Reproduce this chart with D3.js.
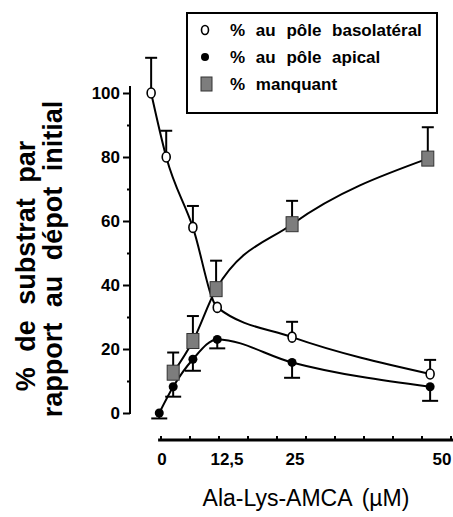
<!DOCTYPE html>
<html>

<head>
    <meta charset="utf-8">
    <style>
        body {
            margin: 0;
            background: white;
        }

        svg {
            font-family: 'Liberation Sans', Arial, sans-serif;
        }
    </style>
</head>

<body>
    <svg width="453" height="517"></svg>

    <script src="https://d3js.org/d3.v7.min.js"></script>
    <script>
        // values (x in µM, y in %)
        let basoX = [-1.7, 0.9, 5.5, 9.7, 22.6, 46.4];
        let basoY = [100, 80, 58, 33, 23.7, 12.2];
        let basoErr = [111, 88.2, 64.7, null, 28.5, 16.6]; // upper bars only

        let apicX = [-0.3, 2.1, 5.5, 9.7, 22.6, 46.4];
        let apicY = [0, 8.2, 16.8, 23, 15.8, 8.2];
        let apicErr = [-1.7, 5.1, 13.2, 20.2, 11, 3.8]; // lower bars only

        let missX = [2.1, 5.5, 9.5, 22.6, 46];
        let missY = [12.6, 22.5, 38.7, 59, 79.5];
        let missErr = [18.9, 30.3, 47.6, 66.3, 89.3]; // upper bars only

        let yTicks = [0, 20, 40, 60, 80, 100];
        let yMinor = [10, 30, 50, 70, 90];
        let xTickVals = [0, 12.5, 25, 50];
        let xTickLabels = ["0", "12,5", "25", "50"];
        let legendLabels = ["% au pôle basolatéral", "% au pôle apical", "% manquant"];

        let svg = d3.select("svg");

        let x = d3.scaleLinear().domain([0, 50]).range([161, 451]);
        // labels in the figure are not placed on the tick grid
        let xLab = d3.scaleLinear().domain([0, 12.5, 25, 50]).range([162, 227, 295, 442]);
        let y = d3.scaleLinear().domain([0, 100]).range([413, 93]);

        // ---- y axis
        let yAxis = svg.append("g").attr("transform", "translate(130,0)");
        yAxis.call(d3.axisLeft(y).tickValues(yTicks).tickSize(7).tickFormat(d3.format("d")))
        yAxis.select(".domain").remove();
        yAxis.selectAll("line").style("stroke", "#000").style("stroke-width", 2);
        yAxis.selectAll("text")
            .attr("x", -10)
            .style("font-size", "17px")
            .style("font-weight", "bold")
            .style("fill", "#000");

        let yMin = svg.append("g").attr("transform", "translate(130,0)");
        yMin.call(d3.axisLeft(y).tickValues(yMinor).tickSize(3).tickFormat(""));
        yMin.select(".domain").remove();
        yMin.selectAll("line").style("stroke", "#000").style("stroke-width", 2);

        svg.append("line")
            .attr("x1", 130).attr("x2", 130)
            .attr("y1", y(102.2)).attr("y2", y(0) + 1)
            .style("stroke", "#000").style("stroke-width", 2);

        // ---- x axis (detached, below)
        let xAxisY = 440;
        svg.append("line")
            .attr("x1", x(-0.5)).attr("x2", 453)
            .attr("y1", xAxisY).attr("y2", xAxisY)
            .style("stroke", "#000").style("stroke-width", 3);

        svg.selectAll(".xtick")
            .data(d3.range(0, 51, 5))
            .join("line")
            .attr("class", "xtick")
            .attr("x1", d => x(d)).attr("x2", d => x(d))
            .attr("y1", xAxisY).attr("y2", xAxisY - 4)
            .style("stroke", "#000").style("stroke-width", 2);

        svg.selectAll(".xlab")
            .data(xTickVals)
            .join("text")
            .attr("class", "xlab")
            .attr("x", d => xLab(d))
            .attr("y", 465)
            .attr("text-anchor", "middle")
            .style("font-size", "17px")
            .style("font-weight", "bold")
            .text((d, i) => xTickLabels[i]);

        // ---- axis titles (rotated, two lines)
        let yTitle = svg.append("text")
            .attr("transform", "rotate(-90)")
            .attr("text-anchor", "middle")
            .style("font-size", "27px")
            .style("font-weight", "bold")
            .style("word-spacing", "8px");
        yTitle.append("tspan").attr("x", -266).attr("y", 35).text("% de substrat par");
        yTitle.append("tspan").attr("x", -259).attr("y", 62).text("rapport au dépot initial");

        svg.append("text")
            .attr("x", 306)
            .attr("y", 506)
            .attr("text-anchor", "middle")
            .style("font-size", "23px")
            .style("word-spacing", "4px")
            .text("Ala-Lys-AMCA (µM)");

        // ---- curves
        let line = d3.line()
            .x(d => x(d[0]))
            .y(d => y(d[1]))
            .curve(d3.curveMonotoneX);

        [
            [basoX, basoY],
            [apicX, apicY],
            [missX, missY]
        ].forEach(s => {
            svg.append("path")
                .datum(s[0].map((v, i) => [v, s[1][i]]))
                .attr("d", line)
                .style("fill", "none")
                .style("stroke", "#000")
                .style("stroke-width", 2);
        });

        // ---- error bars
        function errBars(xs, ys, es, cap) {
            let g = svg.append("g");
            xs.forEach((v, i) => {
                if (es[i] == null) return;
                g.append("line")
                    .attr("x1", x(v)).attr("x2", x(v))
                    .attr("y1", y(ys[i])).attr("y2", y(es[i]))
                    .style("stroke", "#000").style("stroke-width", 2);
                g.append("line")
                    .attr("x1", x(v) - cap / 2).attr("x2", x(v) + cap / 2)
                    .attr("y1", y(es[i])).attr("y2", y(es[i]))
                    .style("stroke", "#000").style("stroke-width", 2);
            });
        }
        errBars(basoX, basoY, basoErr, 12);
        errBars(apicX, apicY, apicErr, 16);
        errBars(missX, missY, missErr, 12);

        // ---- markers
        svg.selectAll(".miss")
            .data(missX)
            .join("rect")
            .attr("class", "miss")
            .attr("x", d => x(d) - 6)
            .attr("y", (d, i) => y(missY[i]) - 7.5)
            .attr("width", 12)
            .attr("height", 15)
            .style("fill", "#7d7d7d")
            .style("stroke", "#333")
            .style("stroke-width", 1);

        svg.selectAll(".apic")
            .data(apicX)
            .join("circle")
            .attr("class", "apic")
            .attr("cx", d => x(d))
            .attr("cy", (d, i) => y(apicY[i]))
            .attr("r", 4.5)
            .style("fill", "#000");

        svg.selectAll(".baso")
            .data(basoX)
            .join("ellipse")
            .attr("class", "baso")
            .attr("cx", d => x(d))
            .attr("cy", (d, i) => y(basoY[i]))
            .attr("rx", 4)
            .attr("ry", 5)
            .style("fill", "#fff")
            .style("stroke", "#000")
            .style("stroke-width", 1.6);

        // ---- legend
        let leg = svg.append("g");
        leg.append("rect")
            .attr("x", 187).attr("y", 13)
            .attr("width", 250).attr("height", 100)
            .style("fill", "#fff")
            .style("stroke", "#000")
            .style("stroke-width", 2);

        let rowY = [30, 57, 84];
        leg.append("ellipse")
            .attr("cx", 205).attr("cy", rowY[0])
            .attr("rx", 3.5).attr("ry", 4.5)
            .style("fill", "#fff").style("stroke", "#000").style("stroke-width", 1.6);
        leg.append("circle")
            .attr("cx", 205).attr("cy", rowY[1])
            .attr("r", 4)
            .style("fill", "#000");
        leg.append("rect")
            .attr("x", 201).attr("y", rowY[2] - 7)
            .attr("width", 11).attr("height", 14)
            .style("fill", "#7d7d7d").style("stroke", "#333").style("stroke-width", 1);

        leg.selectAll(".legtext")
            .data(legendLabels)
            .join("text")
            .attr("class", "legtext")
            .attr("x", 230)
            .attr("y", (d, i) => rowY[i] + 6)
            .style("font-size", "17px")
            .style("font-weight", "bold")
            .style("word-spacing", "6px")
            .text(d => d);
    </script>
</body>

</html>
